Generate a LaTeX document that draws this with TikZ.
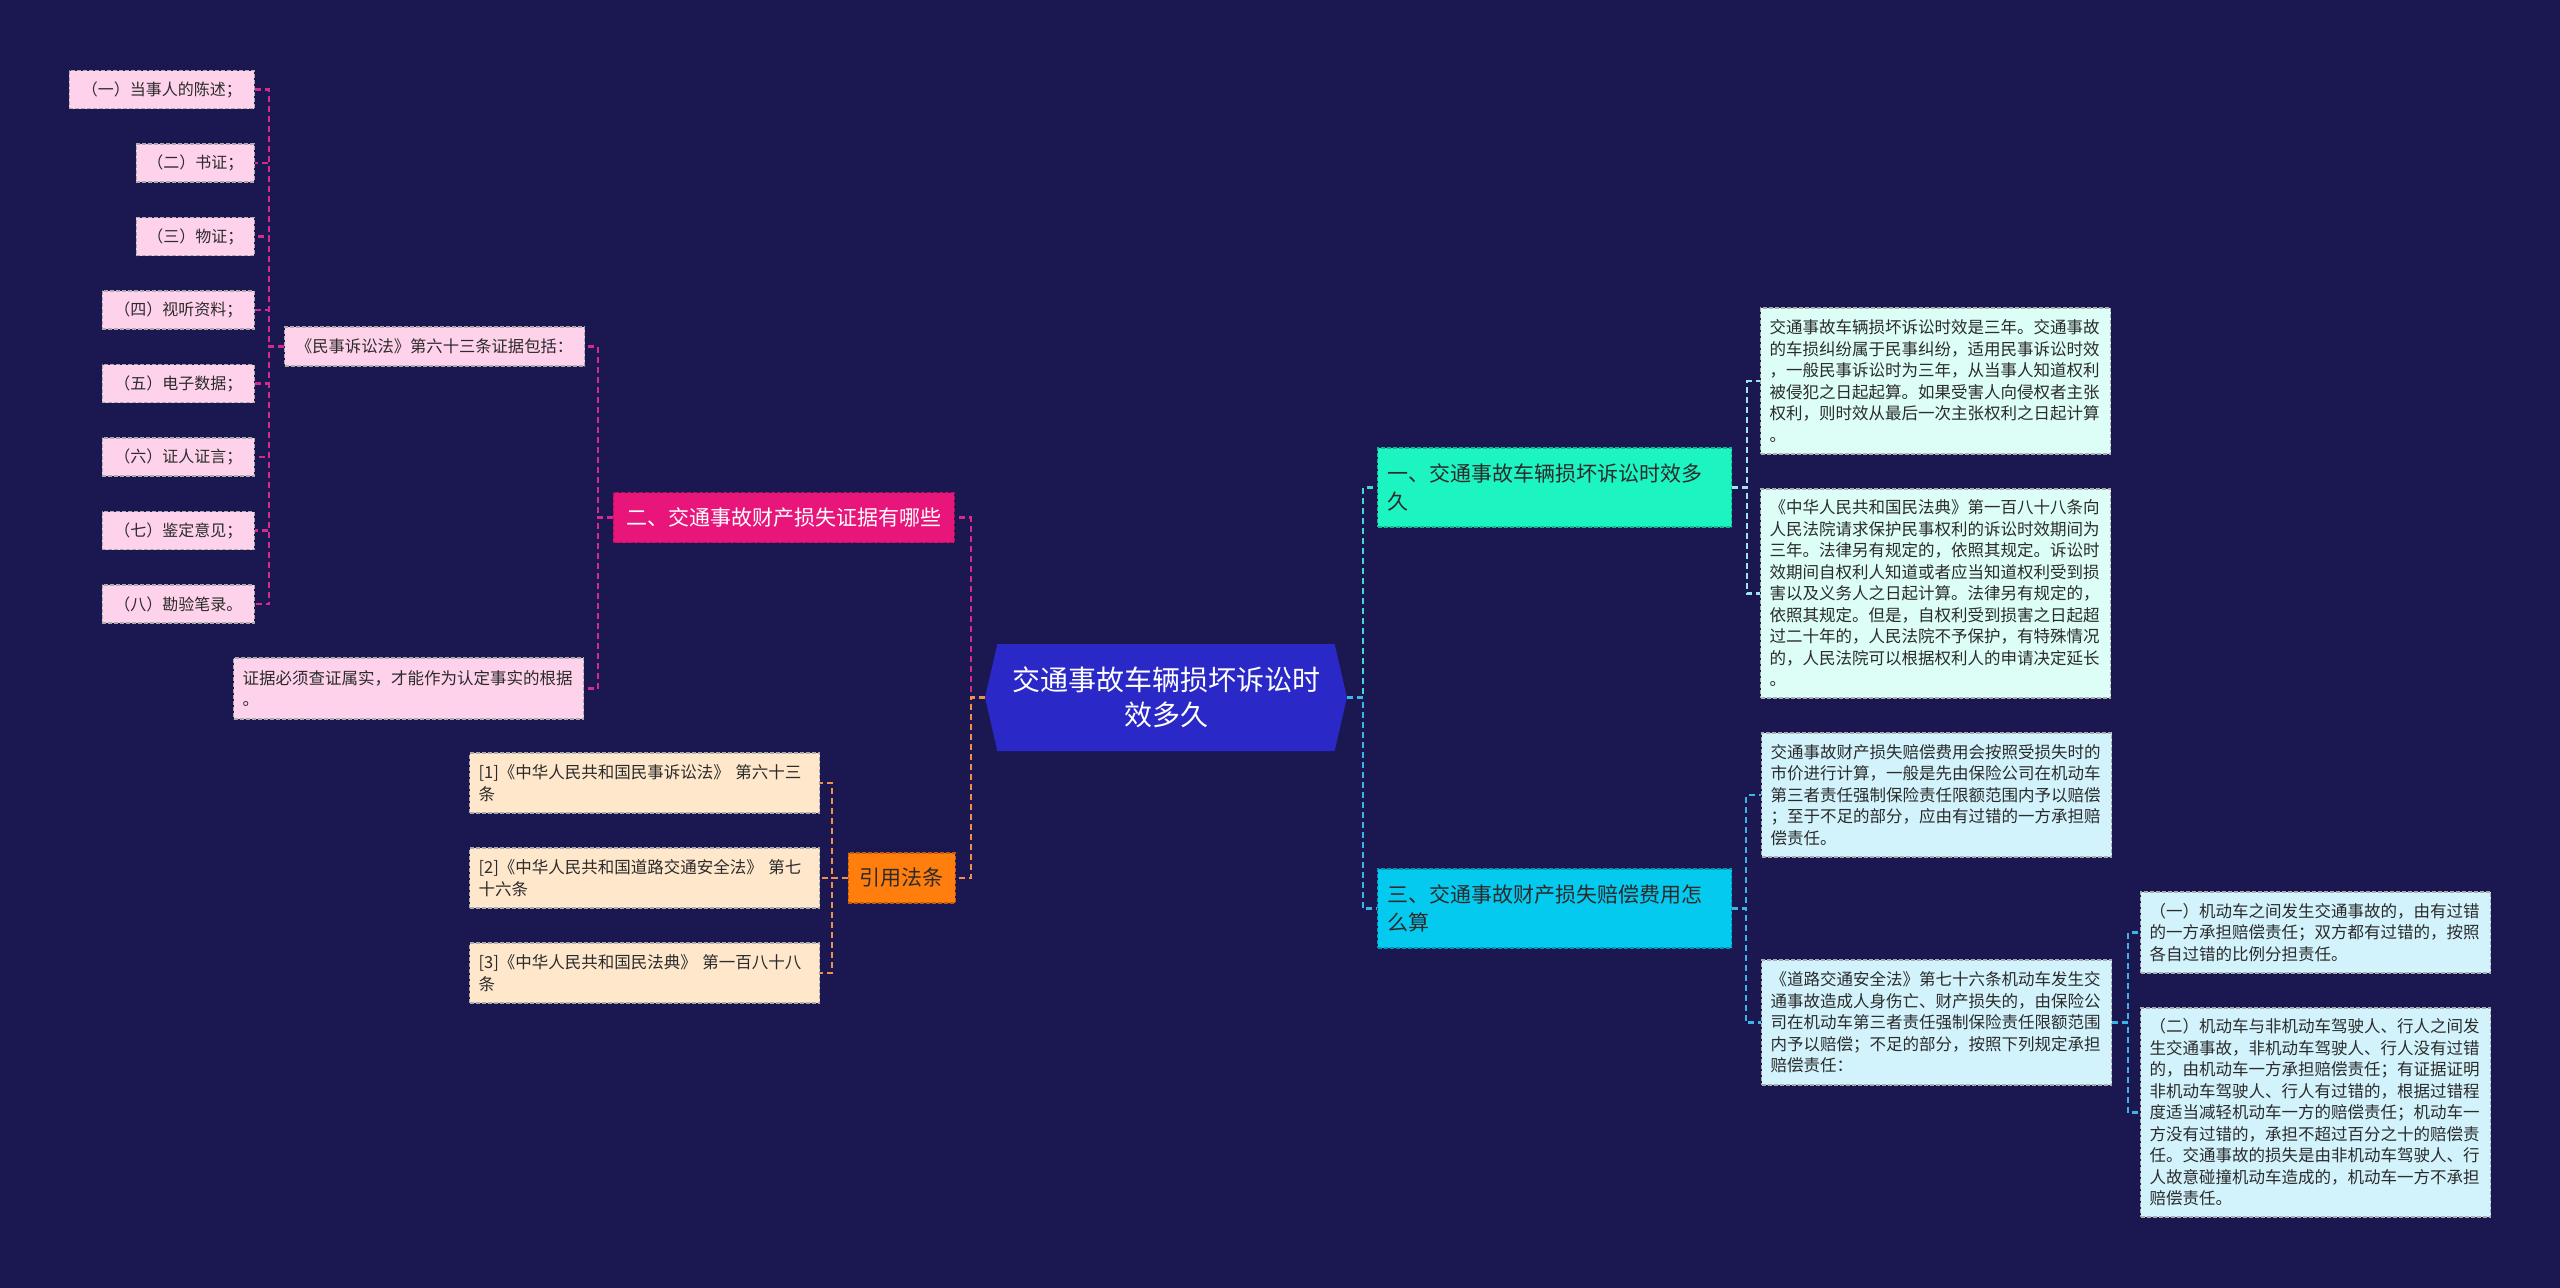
\documentclass[tikz,border=0pt]{standalone}
\usepackage{fontspec}
\setmainfont{Noto Sans CJK SC}
\usepackage{xcolor}
\definecolor{cBack} {HTML}{1B1851}
\definecolor{cRoot} {HTML}{2A28C6}
\definecolor{cPink} {HTML}{E8157B}
\definecolor{cPinkL}{HTML}{FFD2EC}
\definecolor{cOrng} {HTML}{FF7E0E}
\definecolor{cOrngL}{HTML}{FFE7CC}
\definecolor{cMint} {HTML}{1CF4C2}
\definecolor{cMintL}{HTML}{DCFEF6}
\definecolor{cSky}  {HTML}{05CAF0}
\definecolor{cSkyL} {HTML}{D3F3FC}
\definecolor{cInk}  {HTML}{2B2B2B}
\definecolor{cLnPink}{HTML}{D42A8A}
\definecolor{cLnOrng}{HTML}{F0904A}
\definecolor{cLnTeal}{HTML}{45D6D0}
\definecolor{cLnBlue}{HTML}{3DB4E6}
\definecolor{cLnIce} {HTML}{9FE3EE}
\usepackage{tikz}
\usetikzlibrary{shapes.symbols, positioning}
\newcommand{\fsz}[2]{\fontsize{#1}{#2}\selectfont}
\tikzset{
  root/.style = {signal, signal to=west and east, signal pointer angle=154,
                 fill=cRoot, text=white, align=center, font=\fsz{28}{35},
                 minimum width=362pt, minimum height=107pt, inner sep=0pt},
  hub/.style  = {rectangle, draw=#1!75!black, dash pattern=on 4pt off 2pt,
                 line width=1.2pt, fill=#1, text=cInk, inner xsep=10pt,
                 inner ysep=0pt, font=\fsz{21}{28}, minimum height=50pt},
  box/.style  = {rectangle, draw=gray!65, dash pattern=on 4pt off 2pt,
                 line width=1.2pt, text=cInk, inner xsep=9pt, inner ysep=0pt,
                 font=\fsz{16.5}{21.5}},
  item/.style = {box, fill=cPinkL, font=\fsz{16}{21.5}, minimum width=#1,
                 minimum height=38pt, anchor=east},
  para/.style = {box, minimum height=#1, text width=332pt, align=left,
                 anchor=west},
  lnk/.style  = {draw=#1, dash pattern=on 6pt off 4pt, line width=2.2pt},
}

\begin{document}
\begin{tikzpicture}[x=1pt, y=-1pt]
  \fill[cBack] (0,0) rectangle (2560,1288);

  % centre
  \node[root] (root) at (1166,697.5) {交通事故车辆损坏诉讼时\\效多久};

  % left: evidence
  \node[hub=cPink, text=white, minimum width=341pt, anchor=east] (b2)
        at (955,517.5) {二、交通事故财产损失证据有哪些};
  \node[box, fill=cPinkL, font=\fsz{16.3}{21.5}, minimum width=300pt,
        minimum height=39pt, anchor=west] (law)
        at (284,346.5) {《民事诉讼法》第六十三条证据包括：};
  \node[item=185pt] (l1) at (255,89.5)  {（一）当事人的陈述；};
  \node[item=118pt] (l2) at (255,163)   {（二）书证；};
  \node[item=118pt] (l3) at (255,236.5) {（三）物证；};
  \node[item=152pt] (l4) at (255,310)   {（四）视听资料；};
  \node[item=152pt] (l5) at (255,383.5) {（五）电子数据；};
  \node[item=152pt] (l6) at (255,457)   {（六）证人证言；};
  \node[item=152pt] (l7) at (255,530.5) {（七）鉴定意见；};
  \node[item=152pt] (l8) at (255,604)   {（八）勘验笔录。};
  \node[para=61pt, fill=cPinkL] (evid)
        at (233,688.5) {证据必须查证属实，才能作为认定事实的根据\\。};

  % left: cited laws
  \node[hub=cOrng, minimum width=107pt, anchor=east] (cite)
        at (956,878) {引用法条};
  \node[para=60pt, fill=cOrngL] (r1)
        at (469,783) {[1]《中华人民共和国民事诉讼法》 第六十三\\条};
  \node[para=60pt, fill=cOrngL] (r2)
        at (469,878) {[2]《中华人民共和国道路交通安全法》 第七\\十六条};
  \node[para=60pt, fill=cOrngL] (r3)
        at (469,973) {[3]《中华人民共和国民法典》 第一百八十八\\条};

  % right: time limit
  \node[hub=cMint, text width=334pt, align=left, minimum height=79pt,
        anchor=west] (b1) at (1377,487.5)
        {一、交通事故车辆损坏诉讼时效多\\久};
  \node[para=146pt, fill=cMintL] (pa) at (1760,381)
        {交通事故车辆损坏诉讼时效是三年。交通事故\\
         的车损纠纷属于民事纠纷，适用民事诉讼时效\\
         ，一般民事诉讼时为三年，从当事人知道权利\\
         被侵犯之日起起算。如果受害人向侵权者主张\\
         权利，则时效从最后一次主张权利之日起计算\\
         。};
  \node[para=209pt, fill=cMintL] (pb) at (1760,593.5)
        {《中华人民共和国民法典》第一百八十八条向\\
         人民法院请求保护民事权利的诉讼时效期间为\\
         三年。法律另有规定的，依照其规定。诉讼时\\
         效期间自权利人知道或者应当知道权利受到损\\
         害以及义务人之日起计算。法律另有规定的，\\
         依照其规定。但是，自权利受到损害之日起超\\
         过二十年的，人民法院不予保护，有特殊情况\\
         的，人民法院可以根据权利人的申请决定延长\\
         。};

  % right: compensation
  \node[hub=cSky, text width=334pt, align=left, minimum height=79pt,
        anchor=west] (b3) at (1377,908.5)
        {三、交通事故财产损失赔偿费用怎\\么算};
  \node[para=124pt, fill=cSkyL] (pc) at (1761,795)
        {交通事故财产损失赔偿费用会按照受损失时的\\
         市价进行计算，一般是先由保险公司在机动车\\
         第三者责任强制保险责任限额范围内予以赔偿\\
         ；至于不足的部分，应由有过错的一方承担赔\\
         偿责任。};
  \node[para=125pt, fill=cSkyL] (pd) at (1761,1022.5)
        {《道路交通安全法》第七十六条机动车发生交\\
         通事故造成人身伤亡、财产损失的，由保险公\\
         司在机动车第三者责任强制保险责任限额范围\\
         内予以赔偿；不足的部分，按照下列规定承担\\
         赔偿责任：};
  \node[para=81pt, fill=cSkyL] (pe) at (2140,932.5)
        {（一）机动车之间发生交通事故的，由有过错\\
         的一方承担赔偿责任；双方都有过错的，按照\\
         各自过错的比例分担责任。};
  \node[para=209pt, fill=cSkyL] (pf) at (2140,1112.5)
        {（二）机动车与非机动车驾驶人、行人之间发\\
         生交通事故，非机动车驾驶人、行人没有过错\\
         的，由机动车一方承担赔偿责任；有证据证明\\
         非机动车驾驶人、行人有过错的，根据过错程\\
         度适当减轻机动车一方的赔偿责任；机动车一\\
         方没有过错的，承担不超过百分之十的赔偿责\\
         任。交通事故的损失是由非机动车驾驶人、行\\
         人故意碰撞机动车造成的，机动车一方不承担\\
         赔偿责任。};

  % connectors
  \draw[lnk=cLnPink] (root.west) -- ++(-14,0) |- (b2.east);
  \draw[lnk=cLnOrng] (root.west) -- ++(-14,0) |- (cite.east);
  \draw[lnk=cLnPink] (b2.west) -- ++(-15,0) |- (law.east);
  \draw[lnk=cLnPink] (b2.west) -- ++(-15,0) |- (evid.east);
  \draw[lnk=cLnPink] (law.west) -- ++(-15,0) |- (l1.east);
  \draw[lnk=cLnPink] (law.west) -- ++(-15,0) |- (l2.east);
  \draw[lnk=cLnPink] (law.west) -- ++(-15,0) |- (l3.east);
  \draw[lnk=cLnPink] (law.west) -- ++(-15,0) |- (l4.east);
  \draw[lnk=cLnPink] (law.west) -- ++(-15,0) |- (l5.east);
  \draw[lnk=cLnPink] (law.west) -- ++(-15,0) |- (l6.east);
  \draw[lnk=cLnPink] (law.west) -- ++(-15,0) |- (l7.east);
  \draw[lnk=cLnPink] (law.west) -- ++(-15,0) |- (l8.east);
  \draw[lnk=cLnOrng] (cite.west) -- ++(-16,0) |- (r1.east);
  \draw[lnk=cLnOrng] (cite.west) -- ++(-16,0) |- (r2.east);
  \draw[lnk=cLnOrng] (cite.west) -- ++(-16,0) |- (r3.east);
  \draw[lnk=cLnTeal] (root.east) -- ++(16,0) |- (b1.west);
  \draw[lnk=cLnBlue] (root.east) -- ++(16,0) |- (b3.west);
  \draw[lnk=cLnIce]  (b1.east) -- ++(15,0) |- (pa.west);
  \draw[lnk=cLnIce]  (b1.east) -- ++(15,0) |- (pb.west);
  \draw[lnk=cLnBlue] (b3.east) -- ++(14,0) |- (pc.west);
  \draw[lnk=cLnBlue] (b3.east) -- ++(14,0) |- (pd.west);
  \draw[lnk=cLnBlue] (pd.east) -- ++(16,0) |- (pe.west);
  \draw[lnk=cLnBlue] (pd.east) -- ++(16,0) |- (pf.west);

\end{tikzpicture}
\end{document}
